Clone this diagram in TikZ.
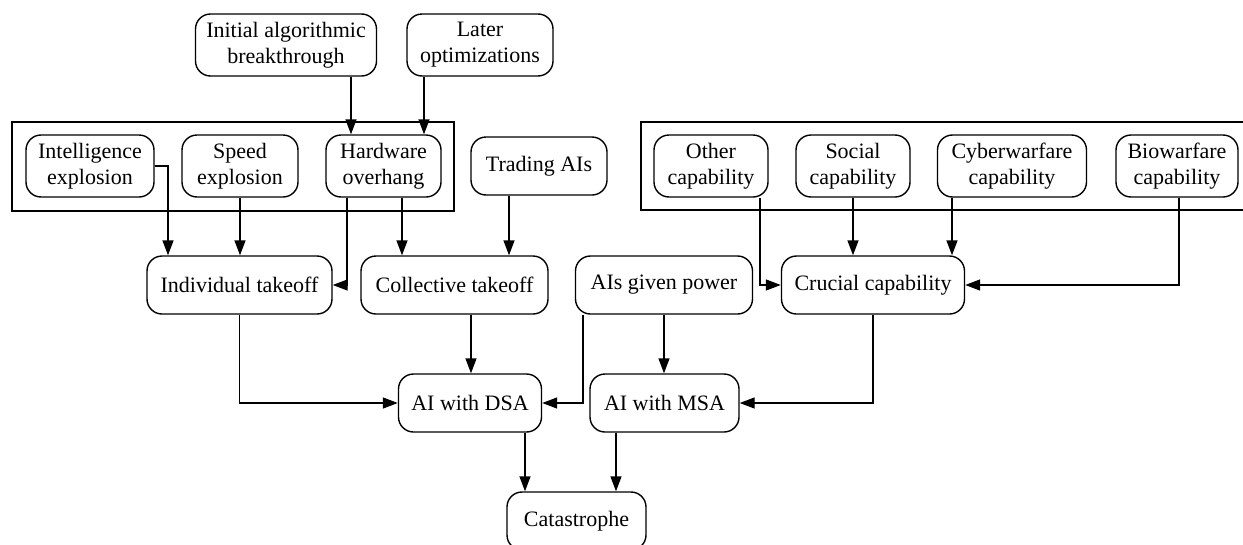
\documentclass[tikz,border=0pt]{standalone}
\usepackage{fontspec}
\setmainfont{Liberation Serif}
\usetikzlibrary{arrows.meta,calc}
\begin{document}
\begin{tikzpicture}[x=1pt,y=-1pt,
  box/.style={draw,line width=1.4pt,rounded corners=15pt,align=center,inner sep=0pt,
    font=\fontsize{22}{26}\selectfont},
  cluster/.style={draw,line width=1.4pt},
  link/.style={line width=1.4pt,-{Triangle[length=15pt,width=11pt]}}]
\useasboundingbox (0,0) rectangle (1243,544);
\clip (0,0) rectangle (1243,544);
% clusters
\draw[cluster] (12,122) rectangle (454,211);
\draw[cluster] (641,122) rectangle (1260,210);
% nodes
\node[box,minimum width=181pt,minimum height=62pt] (init) at (286,45) {Initial algorithmic\\breakthrough};
\node[box,minimum width=146pt,minimum height=62pt] (later) at (480,45) {Later\\optimizations};
\node[box,minimum width=128pt,minimum height=62pt] (intel) at (90,166) {Intelligence\\explosion};
\node[box,minimum width=116pt,minimum height=62pt] (speed) at (240,166) {Speed\\explosion};
\node[box,minimum width=115pt,minimum height=62pt] (hw) at (383.5,166) {Hardware\\overhang};
\node[box,minimum width=136pt,minimum height=58pt] (trading) at (539,166) {Trading AIs};
\node[box,minimum width=114pt,minimum height=62pt] (other) at (711,166) {Other\\capability};
\node[box,minimum width=114pt,minimum height=62pt] (social) at (853,166) {Social\\capability};
\node[box,minimum width=149pt,minimum height=62pt] (cyber) at (1012,166) {Cyberwarfare\\capability};
\node[box,minimum width=122pt,minimum height=62pt] (bio) at (1177,166) {Biowarfare\\capability};
\node[box,minimum width=185pt,minimum height=58pt] (indiv) at (239.5,285) {Individual takeoff};
\node[box,minimum width=187pt,minimum height=58pt] (coll) at (454.5,285) {Collective takeoff};
\node[box,minimum width=177pt,minimum height=58pt] (given) at (664,285) {AIs given power};
\node[box,minimum width=183pt,minimum height=58pt] (crucial) at (873,285) {Crucial capability};
\node[box,minimum width=143pt,minimum height=58pt] (dsa) at (470,403) {AI with DSA};
\node[box,minimum width=149pt,minimum height=58pt] (msa) at (664.5,403) {AI with MSA};
\node[box,minimum width=139pt,minimum height=58pt] (cat) at (576.5,521) {Catastrophe};
% edges
\draw[link] (init.south -| 351,0) -- (hw.north -| 351,0);
\draw[link] (later.south -| 424,0) -- (hw.north -| 424,0);
\draw[link] (intel.east) -| (indiv.north -| 168,0);
\draw[link] (speed.south) -- (speed.south |- indiv.north);
\draw[link] (hw.south -| 347,0) |- (indiv.east);
\draw[link] (hw.south -| 402,0) -- (coll.north -| 402,0);
\draw[link] (trading.south -| 509,0) -- (coll.north -| 509,0);
\draw[link] (other.south -| 760,0) |- (crucial.west);
\draw[link] (social.south) -- (social.south |- crucial.north);
\draw[link] (cyber.south -| 952,0) -- (crucial.north -| 952,0);
\draw[link] (bio.south -| 1179,0) |- (crucial.east);
\draw[link] (indiv.south) |- (dsa.west);
\draw[link] (coll.south -| 471,0) -- (dsa.north -| 471,0);
\draw[link] (given.south -| 583,0) |- (dsa.east);
\draw[link] (given.south) -- (given.south |- msa.north);
\draw[link] (crucial.south) |- (msa.east);
\draw[link] (dsa.south -| 525,0) -- (cat.north -| 525,0);
\draw[link] (msa.south -| 616,0) -- (cat.north -| 616,0);
\end{tikzpicture}
\end{document}
